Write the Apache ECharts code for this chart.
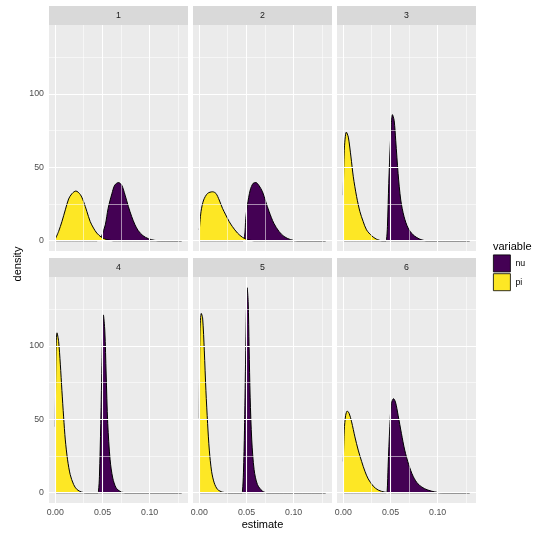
<!DOCTYPE html>
<html>
<head>
<meta charset="utf-8">
<script src="https://cdn.jsdelivr.net/npm/echarts@6/dist/echarts.min.js"></script>
<style>
  html, body { margin: 0; padding: 0; background: #fff; }
  #chartArea { width: 535px; height: 535px; }
</style>
</head>
<body>
<div id="chartArea"></div>
<script>
// facet labels and axis ticks
var panelNames = ['1', '2', '3', '4', '5', '6'];
var xTicks = [0, 0.05, 0.10];
var xMinor = [0.025, 0.075, 0.125];
var yTicks = [0, 50, 100];
var yMinor = [25, 75, 125];

// density curves, [estimate, density]
var nu1 = [[0,0],[0.044,0],[0.047,0.8],[0.049,2.9],[0.053,10.8],[0.056,22],[0.060,32],[0.063,37.8],[0.067,39.6],[0.0704,37.8],[0.074,31],[0.0775,23.2],[0.081,16.4],[0.0845,10.8],[0.088,6.8],[0.093,3.4],[0.0986,1.4],[0.1056,0.2],[0.112,0],[0.134,0]];
var pi1 = [[0,1.1],[0.0035,6.3],[0.007,13],[0.0106,21],[0.0141,28.4],[0.0176,32],[0.0218,33.8],[0.0264,31.5],[0.030,26.6],[0.0335,19.8],[0.037,13],[0.0405,8.6],[0.044,5.2],[0.049,2.3],[0.0546,0.7],[0.0616,0],[0.134,0]];
var nu2 = [[0,0],[0.046,0],[0.048,2.9],[0.0493,15.3],[0.051,24.3],[0.054,34.5],[0.057,39],[0.060,39.6],[0.063,37.8],[0.067,33.3],[0.0704,26.6],[0.074,19.8],[0.079,11.9],[0.0845,6.3],[0.0898,2.9],[0.0968,0.7],[0.104,0],[0.134,0]];
var pi2 = [[0,7.4],[0.0018,19.8],[0.0046,27.7],[0.0088,32.2],[0.0141,33.3],[0.0176,32.2],[0.0211,27.7],[0.0246,22],[0.028,17.6],[0.0317,13],[0.035,9.7],[0.0405,5.2],[0.0458,2.3],[0.051,0.7],[0.058,0],[0.134,0]];
var nu3 = [[0,0],[0.045,0],[0.0458,0.7],[0.0468,9.7],[0.0482,39],[0.050,68],[0.0521,85.8],[0.0539,81.8],[0.0556,68],[0.0581,45.7],[0.0609,27.7],[0.0644,16.4],[0.0687,8.6],[0.074,4],[0.081,1.1],[0.088,0],[0.134,0]];
var pi3 = [[0,31],[0.001,61.5],[0.0032,73.9],[0.0053,70.5],[0.0081,57],[0.0106,43.5],[0.0141,30],[0.0176,19.8],[0.0211,13],[0.0246,7.4],[0.030,3.4],[0.035,1.1],[0.041,0],[0.134,0]];
var nu4 = [[0,0],[0.045,0],[0.0458,1.1],[0.0468,11.2],[0.0482,47],[0.0496,92],[0.051,121],[0.0525,110],[0.0539,80.8],[0.0556,47],[0.0581,22.4],[0.0609,10],[0.0644,3.4],[0.0687,0.9],[0.074,0],[0.134,0]];
var pi4 = [[0,44.9],[0.0007,96],[0.0018,108.8],[0.0035,103],[0.0053,87.5],[0.007,69.5],[0.0088,51.6],[0.0106,35.9],[0.013,22.4],[0.0158,12.3],[0.0194,5.6],[0.0229,2.2],[0.028,0.4],[0.033,0],[0.134,0]];
var nu5 = [[0,0],[0.045,0],[0.0458,1.1],[0.0468,13.5],[0.0479,42.6],[0.049,87.5],[0.050,125.6],[0.0507,139.5],[0.0518,130],[0.0528,98.7],[0.0539,65],[0.0556,35.9],[0.0581,15.7],[0.0616,5.6],[0.0669,1.1],[0.072,0],[0.134,0]];
var pi5 = [[0,50.5],[0.0007,110],[0.0021,122],[0.0035,119],[0.0053,96.5],[0.007,69.5],[0.0088,47],[0.0106,29],[0.013,14.6],[0.0158,6.7],[0.0194,2.2],[0.0246,0.4],[0.030,0],[0.134,0]];
var nu6 = [[0,0],[0.0455,0],[0.0465,1.1],[0.0475,18],[0.0493,44.9],[0.051,60.6],[0.0532,64],[0.0553,61.7],[0.0581,52.7],[0.0616,40.4],[0.0651,29],[0.0694,19],[0.074,11.2],[0.0792,6],[0.0863,2.7],[0.0933,1.1],[0.100,0.2],[0.106,0],[0.134,0]];
var pi6 = [[0,21.3],[0.001,42.6],[0.0025,52.7],[0.0042,55.6],[0.0063,53.8],[0.0088,48.2],[0.0123,38],[0.0158,29],[0.0194,21.3],[0.0229,14.6],[0.0264,9.4],[0.0317,4.5],[0.037,1.8],[0.044,0.4],[0.050,0],[0.134,0]];

var nuData = [nu1, nu2, nu3, nu4, nu5, nu6];
var piData = [pi1, pi2, pi3, pi4, pi5, pi6];

var NU_COLOR = '#440154';
var PI_COLOR = '#FDE725';
var FONT = 'Liberation Sans, Arial, sans-serif';

function gridLines() {
    var lines = [];
    xTicks.forEach(function (v) { lines.push({xAxis: v, lineStyle: {width: 1.1}}); });
    xMinor.forEach(function (v) { lines.push({xAxis: v, lineStyle: {width: 0.55}}); });
    yTicks.forEach(function (v) { lines.push({yAxis: v, lineStyle: {width: 1.1}}); });
    yMinor.forEach(function (v) { lines.push({yAxis: v, lineStyle: {width: 0.55}}); });
    return lines;
}

function buildOption() {
    var colLeft = [49, 193, 337];
    var rowTop = [25, 277];
    var panelW = 139, panelH = 226, stripH = 19;
    var grids = [], xAxes = [], yAxes = [], series = [], graphics = [];

    for (var i = 0; i < 6; i++) {
        var row = Math.floor(i / 3), col = i % 3;
        var gx = colLeft[col], gy = rowTop[row];
        grids.push({
            left: gx, top: gy, width: panelW, height: panelH,
            show: true, backgroundColor: '#EBEBEB', borderWidth: 0
        });
        xAxes.push({
            type: 'value', gridIndex: i, min: -0.0067, max: 0.1407,
            axisLine: {show: false},
            splitLine: {show: false},
            axisTick: {show: row === 1, length: 3, customValues: xTicks, lineStyle: {color: '#333333', width: 1}},
            axisLabel: {
                show: row === 1, customValues: xTicks, margin: 5,
                color: '#4D4D4D', fontSize: 8.8, fontFamily: FONT,
                formatter: function (v) { return v.toFixed(2); }
            }
        });
        yAxes.push({
            type: 'value', gridIndex: i, min: -7, max: 146.8,
            axisLine: {show: false},
            splitLine: {show: false},
            axisTick: {show: col === 0, length: 3, customValues: yTicks, lineStyle: {color: '#333333', width: 1}},
            axisLabel: {
                show: col === 0, customValues: yTicks, margin: 5,
                color: '#4D4D4D', fontSize: 8.8, fontFamily: FONT
            }
        });
        // white panel grid lines
        series.push({
            type: 'line', xAxisIndex: i, yAxisIndex: i, data: [], silent: true, z: 1,
            markLine: {
                silent: true, symbol: ['none', 'none'], label: {show: false},
                animation: false,
                lineStyle: {color: '#FFFFFF', type: 'solid'},
                data: gridLines()
            }
        });
        [['nu', nuData[i], NU_COLOR, 2], ['pi', piData[i], PI_COLOR, 3]].forEach(function (s) {
            series.push({
                name: s[0], type: 'line', xAxisIndex: i, yAxisIndex: i,
                data: s[1], z: s[3],
                smooth: 0.3,
                showSymbol: false, symbol: 'none',
                color: s[2],
                lineStyle: {color: '#000000', width: 1},
                areaStyle: {color: s[2], opacity: 1, origin: 0},
                animation: false, silent: true
            });
        });
        // facet strip
        graphics.push({
            type: 'rect', x: gx, y: gy - stripH, silent: true,
            shape: {width: panelW, height: stripH},
            style: {fill: '#D9D9D9'}
        });
        graphics.push({
            type: 'text', x: gx + panelW / 2, y: gy - stripH / 2, silent: true,
            style: {
                text: panelNames[i], fill: '#1A1A1A', fontSize: 8.8, fontFamily: FONT,
                align: 'center', verticalAlign: 'middle'
            }
        });
    }

    graphics.push({
        type: 'text', x: 18, y: 264, rotation: Math.PI / 2, silent: true,
        style: {text: 'density', fill: '#000', fontSize: 11, fontFamily: FONT, align: 'center', verticalAlign: 'middle'}
    });
    graphics.push({
        type: 'text', x: 262.5, y: 525, silent: true,
        style: {text: 'estimate', fill: '#000', fontSize: 11, fontFamily: FONT, align: 'center', verticalAlign: 'middle'}
    });
    graphics.push({
        type: 'text', x: 493, y: 247, silent: true,
        style: {text: 'variable', fill: '#000', fontSize: 11, fontFamily: FONT, align: 'left', verticalAlign: 'middle'}
    });

    return {
        animation: false,
        grid: grids,
        xAxis: xAxes,
        yAxis: yAxes,
        legend: {
            orient: 'vertical', left: 493, top: 254.5,
            itemWidth: 17, itemHeight: 17, itemGap: 1, padding: 0,
            icon: 'rect', selectedMode: false,
            textStyle: {color: '#000', fontSize: 8.8, fontFamily: FONT},
            data: [
                {name: 'nu', itemStyle: {color: NU_COLOR, borderColor: '#000', borderWidth: 0.8}},
                {name: 'pi', itemStyle: {color: PI_COLOR, borderColor: '#000', borderWidth: 0.8}}
            ]
        },
        graphic: graphics,
        series: series
    };
}

var myChart = echarts.init(document.getElementById('chartArea'));
myChart.setOption(buildOption());
</script>
</body>
</html>
